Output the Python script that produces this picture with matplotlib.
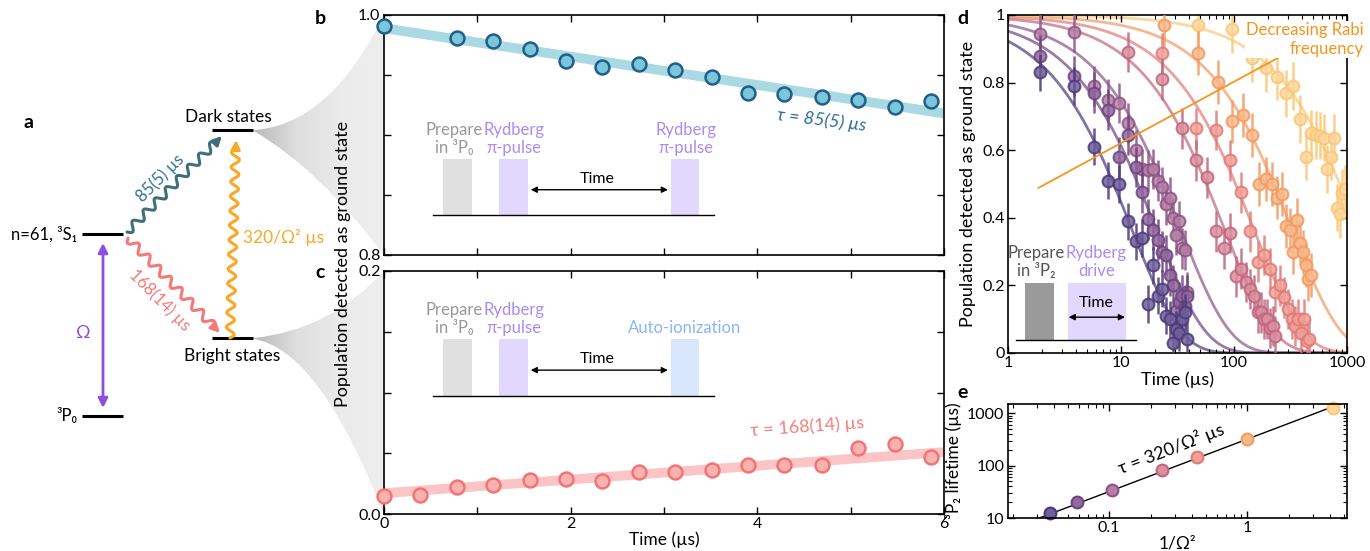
import numpy as np
import matplotlib.pyplot as plt
from matplotlib.patches import Rectangle, PathPatch
from matplotlib.path import Path
from matplotlib.colors import LinearSegmentedColormap

plt.rcParams['font.family'] = ['Lato', 'DejaVu Sans']
plt.rcParams['axes.linewidth'] = 1.2

W, H = 1370, 551

# ---- panel b / c data (short time decay) ----
t_b = [0, 0.78, 1.17, 1.56, 1.95, 2.34, 2.73, 3.12, 3.51, 3.90, 4.29, 4.69, 5.08, 5.47, 5.86]
pop_b = [0.991, 0.981, 0.978, 0.972, 0.962, 0.957, 0.959, 0.954, 0.948, 0.935, 0.934, 0.932, 0.929, 0.923, 0.928]
t_c = [0, 0.39, 0.78, 1.17, 1.56, 1.95, 2.34, 2.73, 3.12, 3.51, 3.90, 4.29, 4.69, 5.08, 5.47, 5.86]
pop_c = [0.0149, 0.0155, 0.0223, 0.0242, 0.0277, 0.0285, 0.0271, 0.0345, 0.0345, 0.0366,
         0.0402, 0.0407, 0.0407, 0.054, 0.0578, 0.0472]
fit_t = [0, 6]
fit_b = [0.989, 0.918]
fit_c = [0.0171, 0.051]

# ---- panel d data (3P2 decay for several Rabi frequencies) ----
t_d1 = [1.93, 3.86, 5.79, 7.72, 9.65, 11.6, 13.5, 15.4, 17.4, 19.3,
        21.2, 23.2, 25.1, 27.0, 29.0, 30.9, 32.8, 34.7, 36.7, 38.6]
t_d4 = [11.6, 23.2, 34.8, 46.4, 58, 69.6, 81.2, 92.8, 104, 116,
        128, 139, 151, 162, 174, 186, 197, 209, 220, 232]
t_d5 = [23.2, 46.4, 69.6, 92.8, 116, 139, 162, 186, 209, 232,
        255, 278, 302, 325, 348, 371, 394, 418, 441, 464]
t_d6 = [24, 48, 72, 96, 120, 144, 168, 192, 216, 240,
        264, 288, 312, 336, 360, 384, 408, 432, 456, 480]
t_d7 = [48, 96, 144, 192, 240, 288, 336, 384, 432, 480,
        528, 576, 624, 672, 720, 768, 816, 864, 912, 960]

pop_d1 = [0.83, 0.79, 0.61, 0.51, 0.50, 0.39, 0.33, 0.34, 0.145, 0.26,
          0.17, 0.19, 0.11, 0.10, 0.03, 0.07, 0.06, 0.10, 0.12, 0.04]
pop_d2 = [0.88, 0.82, 0.77, 0.72, 0.58, 0.645, 0.55, 0.475, 0.395, 0.365,
          0.335, 0.30, 0.29, 0.23, 0.20, 0.125, 0.15, 0.17, 0.14, 0.17]
pop_d3 = [0.945, 0.95, 0.79, 0.75, 0.74, 0.68, 0.60, 0.545, 0.54, 0.545,
          0.51, 0.49, 0.44, 0.46, 0.40, 0.35, 0.39, 0.31, 0.305, 0.18]
pop_d4 = [0.89, 0.81, 0.665, 0.57, 0.52, 0.36, 0.31, 0.355, 0.227, 0.25,
          0.21, 0.19, 0.17, 0.12, 0.12, 0.10, 0.10, 0.074, 0.08, 0.05]
pop_d5 = [0.887, 0.665, 0.66, 0.57, 0.475, 0.36, 0.27, 0.29, 0.25, 0.18,
          0.20, 0.165, 0.13, 0.10, 0.08, 0.10, 0.06, 0.10, 0.035, 0.04]
pop_d6 = [0.97, 0.887, 0.803, 0.685, 0.704, 0.645, 0.50, 0.515, 0.50, 0.46,
          0.47, 0.375, 0.365, 0.30, 0.394, 0.325, 0.30, 0.26, 0.22, 0.23]
pop_d7 = [0.97, 0.958, 0.872, 0.842, 0.818, 0.768, 0.79, 0.692, 0.581, 0.65,
          0.645, 0.643, 0.637, 0.544, 0.581, 0.637, 0.43, 0.41, 0.473, 0.485]
err_d = [0.055, 0.06, 0.06, 0.06, 0.06, 0.065, 0.07]

# ---- panel e data (fitted lifetimes) ----
inv_omega2 = [0.037, 0.058, 0.105, 0.242, 0.434, 1.0, 4.16]
lifetime = [12.4, 20.4, 33.6, 82, 149, 324, 1245]
slope_e = 320

edge_cols = ['#4b3a7b', '#6d4582', '#8e5486', '#c0667d', '#e07b76', '#f29a62', '#fbc776']
face_cols = ['#6f5f9b', '#93689c', '#b57fa5', '#db8f9f', '#f0a19a', '#f8b98c', '#fdd69e']


def rect(l, t, r, b):
    return [l / W, 1 - b / H, (r - l) / W, (b - t) / H]


def wavy(ax, p0, p1, color, amp=4.0, wl=15.0, lw=2.2, head=9):
    p0 = np.array(p0, float)
    p1 = np.array(p1, float)
    d = p1 - p0
    L = np.hypot(d[0], d[1])
    u = d / L
    n = np.array([-u[1], u[0]])
    Ls = L - head
    wl = Ls / max(1, round(Ls / wl))
    s = np.linspace(0, Ls, 400)
    pts = p0 + np.outer(s, u) + np.outer(amp * np.sin(2 * np.pi * s / wl), n)
    ax.plot(pts[:, 0], pts[:, 1], color=color, lw=lw, solid_capstyle='round')
    ax.annotate('', xy=p1, xytext=pts[-1],
                arrowprops=dict(arrowstyle='-|>', color=color, lw=lw,
                                mutation_scale=13, shrinkA=0, shrinkB=0))


def wedge(ax, apex, top_end, bot_end, c_top, c_bot):
    verts = [apex, c_top, top_end, bot_end, c_bot, (apex[0], apex[1] + 1), apex]
    codes = [Path.MOVETO, Path.CURVE3, Path.CURVE3, Path.LINETO,
             Path.CURVE3, Path.CURVE3, Path.CLOSEPOLY]
    patch = PathPatch(Path(verts, codes), facecolor='none', edgecolor='none')
    ax.add_patch(patch)
    cmap = LinearSegmentedColormap.from_list('g', ['#b9b9b9', '#dedede', '#ebebeb', '#eeeeee'])
    grad = np.linspace(0, 1, 256).reshape(1, -1)
    im = ax.imshow(grad, cmap=cmap, extent=[apex[0], top_end[0], 551, 0],
                   aspect='auto', zorder=0)
    im.set_clip_path(patch)


def style(ax):
    ax.tick_params(direction='in', top=True, right=True, length=5, width=1,
                   labelsize=11.5, pad=2.5)
    ax.tick_params(which='minor', direction='in', top=True, right=True, length=3, width=0.8)


fig = plt.figure(figsize=(W / 100, H / 100), dpi=100)

# ---- panel a, drawn in pixel coordinates ----
ax0 = fig.add_axes([0, 0, 1, 1])
ax0.set_xlim(0, W)
ax0.set_ylim(H, 0)
ax0.axis('off')

wedge(ax0, (254, 130), (384, 15), (384, 255), (330, 125), (320, 170))
wedge(ax0, (254, 338), (384, 271), (384, 515), (330, 330), (320, 350))

for x0, x1, y in [(212, 253, 130), (212, 253, 338), (82, 123, 234), (82, 123, 416)]:
    ax0.plot([x0, x1], [y, y], color='k', lw=2.2, solid_capstyle='butt')

ax0.text(228, 117, 'Dark states', fontsize=12.5, ha='center', va='center')
ax0.text(232, 356, 'Bright states', fontsize=12.5, ha='center', va='center')
ax0.text(77, 234, 'n=61, ³S₁', fontsize=12, ha='right', va='center')
ax0.text(77, 416, '³P₀', fontsize=12, ha='right', va='center')

ax0.annotate('', xy=(103, 408), xytext=(103, 243),
             arrowprops=dict(arrowstyle='<|-|>', color='#8b4ee3', lw=2,
                             mutation_scale=14, shrinkA=0, shrinkB=0))
ax0.text(83, 333, 'Ω', fontsize=13, color='#8b4ee3', ha='center', va='center')

wavy(ax0, (127, 232), (222, 136), '#3f7079')
wavy(ax0, (128, 238), (220, 333), '#f47a7a')
wavy(ax0, (230, 338), (236, 140), '#f9a828')
ax0.text(160, 178, '85(5) µs', fontsize=12, color='#2f6f98', rotation=45,
         ha='center', va='center')
ax0.text(160, 300, '168(14) µs', fontsize=12, color='#f47a7a', rotation=-45,
         ha='center', va='center')
ax0.text(243, 237, '320/Ω² µs', fontsize=12.5, color='#f9a828', ha='left', va='center')

for lab, x, y in [('a', 29, 122), ('b', 320, 18), ('c', 320, 272), ('d', 963, 18), ('e', 963, 392)]:
    ax0.text(x, y, lab, fontsize=14, fontweight='bold', ha='center', va='center')

ax0.text(343, 264, 'Population detected as ground state', fontsize=13, rotation=90,
         ha='center', va='center')

# ---- panel b ----
ax_b = fig.add_axes(rect(384, 15, 944, 255))
ax_b.plot(fit_t, fit_b, color='#a9d9e2', lw=7, solid_capstyle='butt', zorder=2)
ax_b.plot(t_b, pop_b, 'o', ms=10, mfc='#7cc6d9', mec='#1f5f8c', mew=1.8, clip_on=False, zorder=3)
ax_b.set_xlim(0, 6)
ax_b.set_ylim(0.8, 1.0)
ax_b.set_xticks(range(7))
ax_b.set_xticklabels([])
ax_b.set_yticks([0.8, 0.85, 0.9, 0.95, 1.0])
ax_b.set_yticklabels(['0.8', '', '', '', '1.0'])
style(ax_b)
ax_b.text(0.782, 0.56, 'τ = 85(5) µs', transform=ax_b.transAxes, fontsize=13,
          color='#2b6d96', rotation=-7, ha='center', va='center', style='italic')

# ---- panel c ----
ax_c = fig.add_axes(rect(384, 271, 944, 514))
ax_c.plot(fit_t, fit_c, color='#fcc4c4', lw=7, solid_capstyle='butt', zorder=2)
ax_c.plot(t_c, pop_c, 'o', ms=10, mfc='#f9b2b2', mec='#f27474', mew=1.8, clip_on=False, zorder=3)
ax_c.set_xlim(0, 6)
ax_c.set_ylim(0, 0.2)
ax_c.set_xticks(range(7))
ax_c.set_xticklabels(['0', '', '2', '', '4', '', '6'])
ax_c.set_yticks([0, 0.05, 0.1, 0.15, 0.2])
ax_c.set_yticklabels(['0.0', '', '', '', '0.2'])
style(ax_c)
ax_c.set_xlabel('Time (µs)', fontsize=12.5, labelpad=0)
ax_c.text(0.755, 0.36, 'τ = 168(14) µs', transform=ax_c.transAxes, fontsize=13,
          color='#f47f7f', rotation=4, ha='center', va='center')

# pulse sequence insets in b and c
for ax, base, last_lab, last_col, last_box in [
        (ax_b, 0.166, 'Rydberg\nπ-pulse', '#a98cf2', '#e2d7fc'),
        (ax_c, 0.486, 'Auto-ionization', '#8ab6f6', '#d8e6fb')]:
    hb = 0.235
    ax.plot([0.088, 0.589], [base, base], transform=ax.transAxes, color='k', lw=1)
    ax.add_patch(Rectangle((0.105, base), 0.052, hb, transform=ax.transAxes,
                           color='#e0e0e0', lw=0))
    ax.add_patch(Rectangle((0.206, base), 0.051, hb, transform=ax.transAxes,
                           color='#e2d7fc', lw=0))
    ax.add_patch(Rectangle((0.512, base), 0.051, hb, transform=ax.transAxes,
                           color=last_box, lw=0))
    ax.annotate('', xy=(0.507, base + 0.106), xytext=(0.262, base + 0.106),
                xycoords='axes fraction',
                arrowprops=dict(arrowstyle='<|-|>', color='k', lw=1,
                                mutation_scale=9, shrinkA=0, shrinkB=0))
    ax.text(0.381, base + 0.15, 'Time', transform=ax.transAxes, fontsize=11.5,
            ha='center', va='center')
    ax.text(0.126, base + 0.317, 'Prepare\nin ³P₀', transform=ax.transAxes,
            fontsize=12, color='#999999', ha='center', va='center', linespacing=1.15)
    ax.text(0.232, base + 0.317, 'Rydberg\nπ-pulse', transform=ax.transAxes,
            fontsize=12, color='#a98cf2', ha='center', va='center', linespacing=1.15)
    if '\n' in last_lab:
        ax.text(0.539, base + 0.317, last_lab, transform=ax.transAxes, fontsize=12,
                color=last_col, ha='center', va='center', linespacing=1.15)
    else:
        ax.text(0.537, base + 0.281, last_lab, transform=ax.transAxes, fontsize=12,
                color=last_col, ha='center', va='center')

# ---- panel d ----
ax_d = fig.add_axes(rect(1008, 15, 1347, 353))
t_d = [t_d1, t_d1, t_d1, t_d4, t_d5, t_d6, t_d7]
pop_d = [pop_d1, pop_d2, pop_d3, pop_d4, pop_d5, pop_d6, pop_d7]
tt = np.logspace(0, 3, 300)
for k in range(7):
    ax_d.plot(tt, np.exp(-tt / lifetime[k]), color=edge_cols[k], lw=2, alpha=0.7, zorder=1)
for k in range(6, -1, -1):
    ax_d.errorbar(t_d[k], pop_d[k], yerr=err_d[k], fmt='o', ms=8.5, mfc=face_cols[k],
                  mec=edge_cols[k], mew=1.5, ecolor=edge_cols[k], elinewidth=1.8,
                  capsize=0, alpha=0.85, zorder=2 + (6 - k))
ax_d.set_xscale('log')
ax_d.set_xlim(1, 1000)
ax_d.set_ylim(0, 1)
ax_d.set_xticks([1, 10, 100, 1000])
ax_d.set_xticklabels(['1', '10', '100', '1000'])
ax_d.set_yticks([0, 0.2, 0.4, 0.6, 0.8, 1])
ax_d.set_yticklabels(['0', '0.2', '0.4', '0.6', '0.8', '1'])
style(ax_d)
ax_d.set_xlabel('Time (µs)', fontsize=13, labelpad=1)
ax_d.set_ylabel('Population detected as ground state', fontsize=13, labelpad=4)

ax_d.annotate('', xy=(348, 0.901), xytext=(1.85, 0.488),
              arrowprops=dict(arrowstyle='-|>', color='#f7941d', lw=1.3,
                              mutation_scale=11, shrinkA=0, shrinkB=0), zorder=20)
ax_d.text(1.05, 0.927, 'Decreasing Rabi\nfrequency', transform=ax_d.transAxes,
          fontsize=12, color='#f7941d', ha='right', va='center', linespacing=1.2,
          bbox=dict(facecolor='white', edgecolor='none', pad=1), zorder=30, clip_on=False)

ax_d.plot([0.0227, 0.377], [0.037, 0.037], transform=ax_d.transAxes, color='k', lw=1, zorder=25)
ax_d.add_patch(Rectangle((0.049, 0.037), 0.086, 0.17, transform=ax_d.transAxes,
                         color='#9a9a9a', lw=0, zorder=24))
ax_d.add_patch(Rectangle((0.177, 0.037), 0.170, 0.17, transform=ax_d.transAxes,
                         color='#e2d7fc', lw=0, zorder=24))
ax_d.annotate('', xy=(0.345, 0.106), xytext=(0.179, 0.106), xycoords='axes fraction',
              arrowprops=dict(arrowstyle='<|-|>', color='k', lw=1, mutation_scale=9,
                              shrinkA=0, shrinkB=0), zorder=26)
ax_d.text(0.261, 0.148, 'Time', transform=ax_d.transAxes, fontsize=11.5,
          ha='center', va='center', zorder=26)
ax_d.text(0.084, 0.27, 'Prepare\nin ³P₂', transform=ax_d.transAxes, fontsize=12,
          color='#555555', ha='center', va='center', linespacing=1.15, zorder=26)
ax_d.text(0.261, 0.27, 'Rydberg\ndrive', transform=ax_d.transAxes, fontsize=12,
          color='#a98cf2', ha='center', va='center', linespacing=1.15, zorder=26)

# ---- panel e ----
ax_e = fig.add_axes(rect(1008, 404, 1347, 518))
xx = np.logspace(np.log10(0.0185), np.log10(5.28), 50)
ax_e.plot(xx, slope_e * xx, color='k', lw=1, zorder=1)
for k in range(7):
    ax_e.plot(inv_omega2[k], lifetime[k], 'o', ms=8.5, mfc=face_cols[k], mec=edge_cols[k],
              mew=1.5, zorder=2, clip_on=False)
ax_e.set_xscale('log')
ax_e.set_yscale('log')
ax_e.set_xlim(0.0185, 5.28)
ax_e.set_ylim(10, 1500)
ax_e.set_xticks([0.1, 1])
ax_e.set_xticklabels(['0.1', '1'])
ax_e.set_yticks([10, 100, 1000])
ax_e.set_yticklabels(['10', '100', '1000'])
style(ax_e)
ax_e.set_xlabel('1/Ω²', fontsize=12.5, labelpad=0)
ax_e.set_ylabel('³P₂ lifetime (µs)', fontsize=12.5, labelpad=4)
ax_e.text(0.28, 215, 'τ = 320/Ω² µs', fontsize=13, rotation=21, ha='center', va='center')

fig.savefig('out.png', dpi=100)
